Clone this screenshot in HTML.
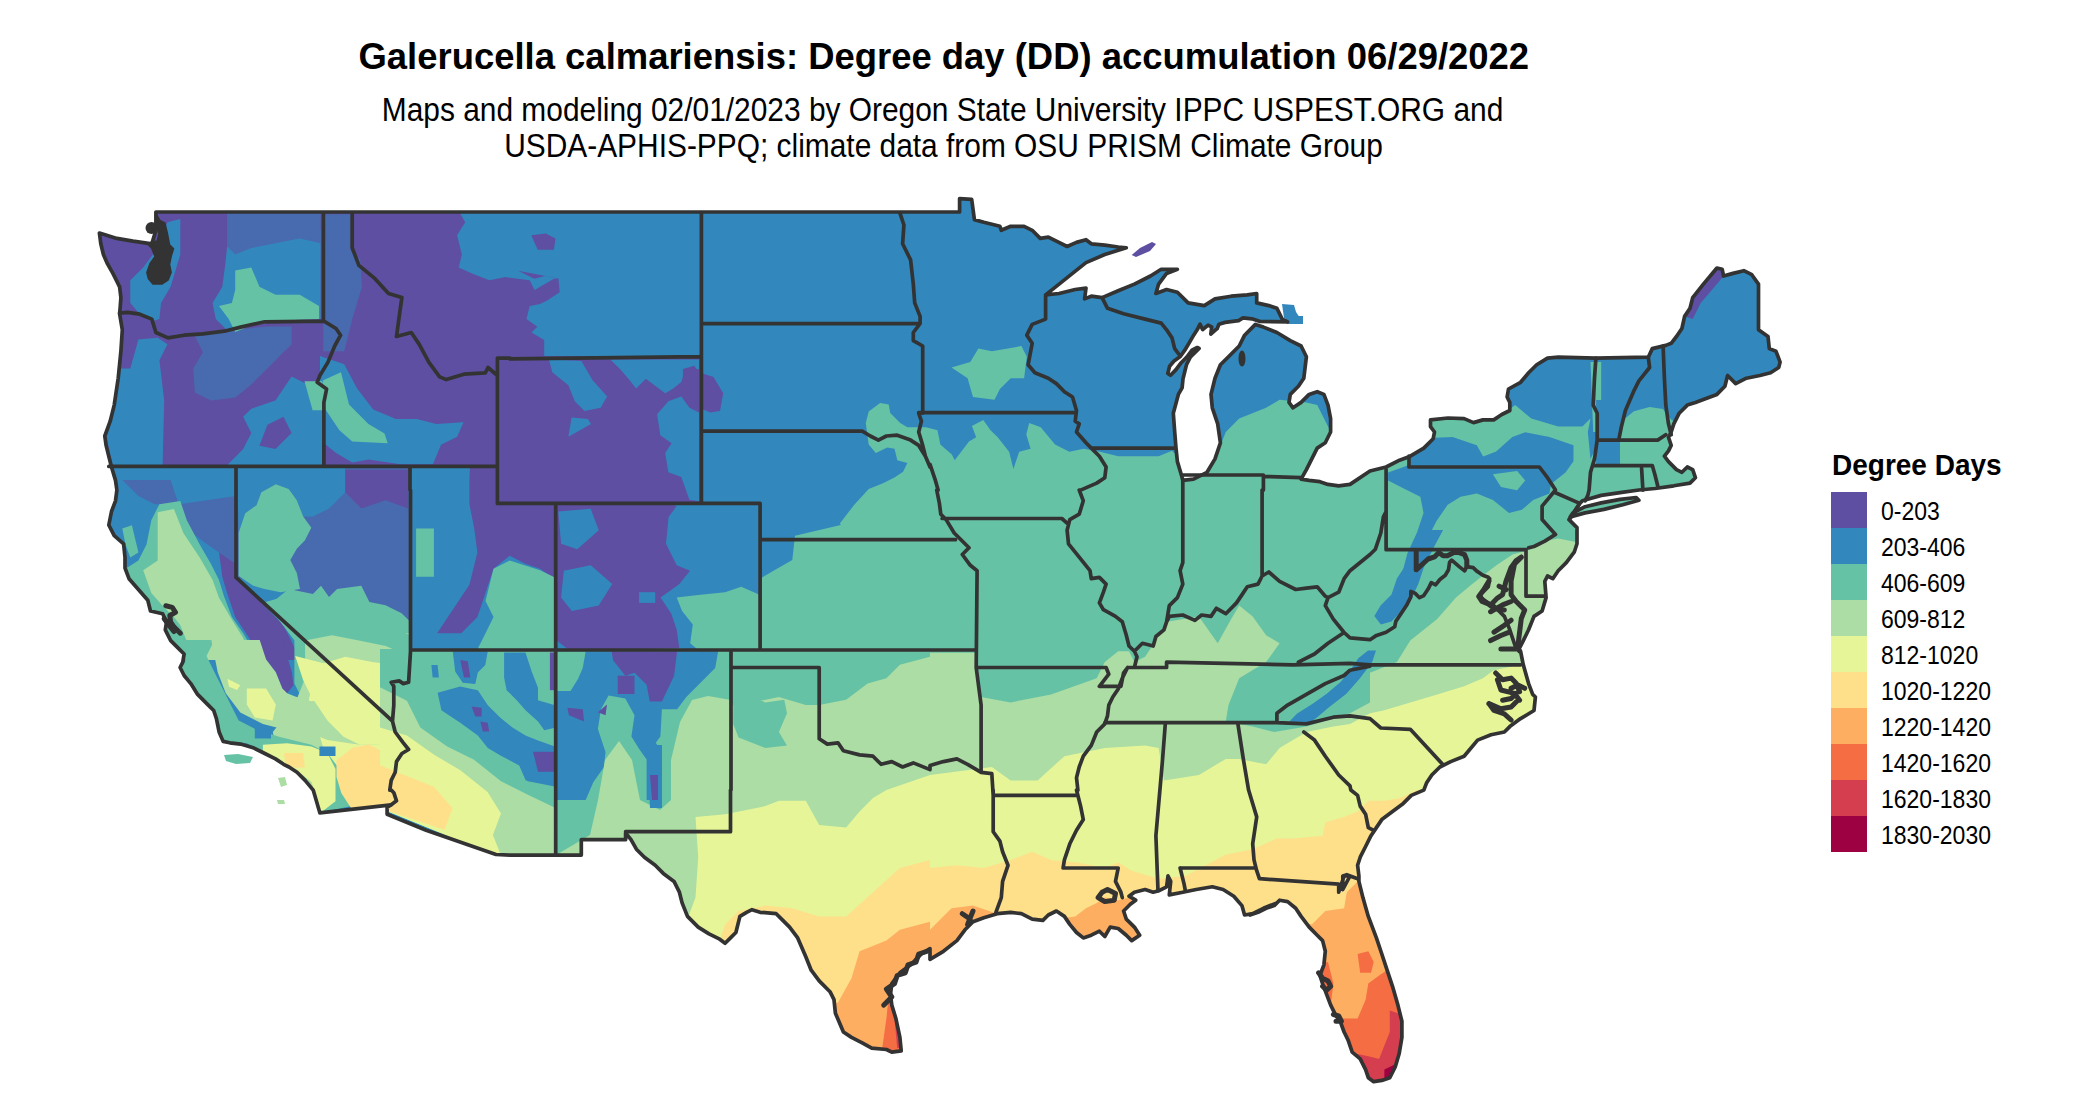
<!DOCTYPE html>
<html><head><meta charset="utf-8"><style>
html,body{margin:0;padding:0;background:#fff;width:2100px;height:1116px;overflow:hidden;font-family:"Liberation Sans",sans-serif;}
.t{position:absolute;white-space:nowrap;color:#000;}
#title{font-weight:bold;font-size:36.45px;left:358.5px;top:36px;}
.sub{font-size:29.9px;transform:scaleY(1.1);transform-origin:0 0;}
.sw{position:absolute;left:1831px;width:36px;height:36px;}
.lb{position:absolute;left:1881px;font-size:23px;white-space:nowrap;transform:scaleY(1.09);transform-origin:0 0;}
</style></head><body>
<svg width="2100" height="1116" viewBox="0 0 2100 1116" style="position:absolute;left:0;top:0">
<defs><clipPath id="us"><path d="M99.4,233 L116.9,238.4 L133,241.1 L151.8,243.8 L155.9,230.3 L155.9,212 L510,212 L510,212 L930,212 L930,212 L959.6,212 L959.6,198.6 L971.7,199.4 L974.4,219.6 L983.8,222.3 L999.9,226.3 L1001.3,230.3 L1010.7,226.3 L1024.1,226.3 L1032.2,230.3 L1040.2,238.4 L1048.3,237.1 L1056.4,241.1 L1067.1,246.5 L1076.5,242.4 L1086,239.7 L1091.3,243.8 L1104.8,245.1 L1118.2,247 L1126.3,247.8 L1104.8,254.5 L1086,262.6 L1072.5,273.4 L1059.1,284.1 L1045.6,294.9 L1059.1,293.5 L1075.2,289.5 L1086,288.1 L1084.6,298.9 L1091.3,296.2 L1102.1,297.6 L1118.2,290.8 L1134.4,284.1 L1150.5,276 L1161.2,269.3 L1177.4,269.3 L1166.6,273.4 L1158.6,284.1 L1155.9,293.5 L1166.6,289.5 L1177.4,292.2 L1188.1,302.9 L1204.3,305.6 L1215,298.9 L1231.2,296.2 L1247.3,294.9 L1256.7,293.5 L1256.7,302.9 L1268.8,305.6 L1276.9,308.3 L1282.2,319.1 L1287.6,321.8 L1260,321.5 L1252,318.8 L1243,317.9 L1238.6,320.6 L1225.1,322.4 L1218.9,324.2 L1217.1,328.7 L1210.8,334 L1211.7,326.9 L1208.1,325.1 L1202.7,329.6 L1200,324.2 L1197.3,329.6 L1193.8,334.9 L1190.2,341.2 L1184.8,350.2 L1180.3,356.5 L1174,361 L1169.6,366.3 L1167.8,373.5 L1170.5,375.3 L1175.8,369.9 L1181.2,362.7 L1186.6,357.3 L1192,350.2 L1197.3,347.5 L1199.1,348.4 L1190.2,357.3 L1186.6,364.3 L1184.8,371.5 L1183,378.9 L1182.1,387.8 L1178.5,394.1 L1173.3,413.2 L1174.7,432 L1176,448.1 L1177.4,461.6 L1181.4,475 L1182.8,480.4 L1193.5,479.1 L1207,472.3 L1215,458.9 L1220.4,442.8 L1217.7,423.9 L1212.3,407.8 L1211,394.4 L1215,378.2 L1220.4,364.8 L1228.5,356.7 L1239.2,346 L1244.6,335.2 L1255.4,324.4 L1263.4,327.1 L1276.9,332.5 L1290.3,340.6 L1301.1,346 L1306.4,356.7 L1305.1,367.5 L1303.8,378.2 L1298.4,386.3 L1290.3,394.4 L1289,402.4 L1293,407.8 L1301.1,402.4 L1309.1,394.4 L1317.2,391.7 L1323.9,394.4 L1328,405.1 L1330.6,418.6 L1330.6,432 L1325.3,442.8 L1317.2,448.1 L1311.8,458.9 L1306.4,469.6 L1301.1,479.1 L1309.1,480.4 L1319.9,481.7 L1328,484.4 L1338.7,485.8 L1350,484.4 L1370,471 L1386.1,467 L1399.6,460.2 L1410.3,456.2 L1423.8,448.1 L1433.2,438.7 L1434.5,432 L1430.5,426.6 L1430.5,419.9 L1448,418 L1464.1,418.6 L1473.5,422.6 L1482.9,419.9 L1493.7,419.9 L1501.8,414.5 L1509.8,410.5 L1509.8,402.4 L1507.1,397 L1508.5,389 L1520.6,382.3 L1528.6,372.8 L1536.7,364.8 L1547.5,358.1 L1558.2,357.2 L1595.9,358.1 L1648.3,357.2 L1652.3,348.6 L1665.8,345.4 L1671.2,343.3 L1676.5,336.5 L1681.9,328.5 L1684.6,316.4 L1690,308.3 L1692.7,297.6 L1703.4,284.1 L1716.9,268 L1722.2,269.3 L1723.6,276 L1733,273.4 L1743.8,270.7 L1751.8,274.7 L1758.5,284.1 L1758.5,329.8 L1768,336.5 L1769.3,348.6 L1776,351.3 L1780.1,362.1 L1778.7,367.5 L1770.6,372.8 L1759.9,375.5 L1746.4,378.2 L1735.7,383.6 L1727.6,375.5 L1724.9,386.3 L1716.9,394.4 L1706.1,398.4 L1695.4,402.4 L1687.3,405.1 L1679.2,413.2 L1673.8,423.9 L1671.2,432 L1668.5,437.4 L1671.2,445.4 L1668.5,450.8 L1664.4,456.2 L1668.5,461.6 L1676.5,469.6 L1681.9,472.3 L1687.3,467 L1692.7,469.6 L1695.4,477.7 L1690,483.1 L1673.8,485.8 L1655,488.5 L1638.9,490 L1620.1,492.7 L1601.2,495.4 L1582.4,500.8 L1579.7,503.4 L1569,519.6 L1577,527.6 L1577,543.8 L1574.4,551.8 L1566.3,562.6 L1558.2,570.7 L1552.8,578.7 L1547.5,576 L1544.8,581.4 L1546.1,597.6 L1542.1,611 L1534,616.4 L1528.6,629.8 L1523.3,640.6 L1519.2,648.6 L1520.6,651.3 L1523.3,664.8 L1528.6,683.6 L1532.7,694.4 L1535.4,697 L1534,710.5 L1520.6,718.6 L1509.8,726.6 L1504.4,732 L1491,734.7 L1477.6,740.1 L1464.1,756.2 L1450.7,761.6 L1439.9,767 L1431.8,775 L1426.5,783.1 L1423.8,790.1 L1411.3,795.4 L1403.3,803.4 L1392.5,811.5 L1381.8,819.6 L1376.4,827.6 L1371,835.7 L1365.6,846.5 L1360.2,857.2 L1357.6,865.3 L1358.9,876 L1358.9,881.4 L1362.9,897.6 L1368.3,916.4 L1376.4,937.9 L1381.8,954 L1387.1,970.2 L1392.5,986.3 L1397.9,1005.1 L1401.9,1021.2 L1401.9,1037.4 L1399.2,1053.5 L1395.2,1067 L1389.8,1077.7 L1381.8,1080.4 L1373.7,1081.7 L1368.3,1077.7 L1365.6,1069.6 L1360.2,1058.9 L1352.2,1052.2 L1348.1,1040.1 L1344.1,1032 L1340.1,1021.2 L1336,1015.9 L1330.7,1005.1 L1326.6,994.4 L1322.6,983.6 L1319.9,975.5 L1323.9,964.8 L1325.3,951.3 L1322.6,940.6 L1317.2,935.2 L1309.2,927.1 L1301.1,916.4 L1295.7,908.3 L1287.6,901.6 L1279.6,900.2 L1274.2,905.6 L1266.1,908.3 L1258.1,912.3 L1250,915 L1276.9,902.9 L1263.4,908.3 L1252.7,913.7 L1244.6,915 L1241.9,905.6 L1233.8,896.2 L1223.1,889.5 L1212.3,886.8 L1196.2,889.5 L1182.8,892.2 L1169.3,894.9 L1170.7,881.4 L1168,876 L1166.6,886.8 L1158.6,890.8 L1153.2,892.2 L1145.1,889.5 L1134.4,892.2 L1129,896.2 L1135.7,900.2 L1130.3,904.3 L1123.6,911 L1126.3,919.1 L1134.4,927.1 L1139.7,935.2 L1131.7,940.6 L1126.3,935.2 L1118.2,928.5 L1110.2,927.1 L1104.8,936.5 L1099.4,931.2 L1091.3,935.2 L1083.3,937.9 L1076.5,932.5 L1069.8,924.4 L1064.4,916.4 L1056.4,911 L1048.3,915 L1042.9,920.4 L1032.2,919.1 L1021.4,913.7 L1010.7,912.3 L997.2,913.7 L983.8,917.7 L973,921.8 L965,929.8 L956.9,940.6 L943.4,951.3 L930,959.4 L930,948.6 L921.4,954 L910.6,964.8 L899.9,972.8 L891.8,983.6 L890.5,994.4 L891.8,1005.1 L895.9,1018.6 L899.9,1037.4 L901.2,1050.8 L891.8,1052.2 L886.4,1049.5 L871.7,1048.1 L862.2,1042.8 L851.5,1037.4 L843.4,1032 L835.4,1013.2 L834,999.7 L830,991.7 L819.2,980.9 L811.2,970.2 L805.8,956.7 L797.7,937.9 L789.6,927.1 L781.6,919.1 L776.2,913.7 L760.1,912.3 L752,909.7 L746.6,912.3 L739.9,916.4 L735.9,932.5 L730.5,937.9 L725.1,943.3 L719.7,939.2 L709,933.9 L698.2,927.1 L687.5,916.4 L682.1,902.9 L679.4,892.2 L674,881.4 L663.3,873.4 L655.2,865.3 L644.4,857.2 L636.4,849.2 L631,839.7 L625.6,833 L625.6,839.7 L581.3,839.7 L581.3,855.1 L555.7,855.1 L510,855.1 L496,854.5 L426.1,830.3 L387.1,814.2 L387.1,807.5 L391.2,804.8 L319.9,812.9 L313.2,790.1 L305.1,780.4 L297,772.3 L289,767 L283.6,764.3 L275.5,758.9 L264.8,753.5 L254,748.1 L240.6,744.1 L229.8,742.8 L223.1,741.4 L219.1,732 L216.4,718.6 L213.7,710.5 L208.3,705.1 L197.6,694.4 L190.8,683.6 L184.1,675.5 L180.1,667.5 L182.8,662.1 L184.1,654 L178.7,648.6 L170.7,640.6 L165.3,629.8 L166.6,621.8 L162.6,613.7 L150.5,611 L147.8,600.2 L138.4,589.5 L129,578.7 L125,568 L125,557.2 L123.6,543.8 L114.2,535.7 L108.8,525 L111.5,511.5 L115.5,500.8 L116.9,490 L116.9,490.1 L115.5,480.4 L111.5,467 L108.8,456.2 L106.1,445.4 L104.8,436 L110.2,421.2 L114.2,405.1 L118.2,378.2 L120.9,351.3 L122.3,329.8 L119.6,313.7 L120.1,308.3 L120.9,297.6 L119.6,286.8 L116.9,281.4 L112.9,273.4 L107.5,263.9 L103.4,254.5 L100.8,243.8Z M1570.3,516.9 L1585.1,512.9 L1603.9,509.4 L1622.8,504.8 L1638.9,500.2 L1636.2,497.5 L1620.1,499.4 L1601.2,502.9 L1585.1,506.7 L1573,512.9Z"/></clipPath></defs>
<g clip-path="url(#us)">
<rect x="0" y="0" width="2100" height="1116" fill="#3288BD"/>
<path d="M99,233 L156,205 L455.5,205 L465.2,222.3 L457.1,235.2 L461.9,254.5 L458.7,267.4 L473.2,273.9 L489.4,280.3 L505.5,277.1 L529.7,280.3 L534.5,290 L553.9,278.7 L560,278.7 L518.1,270.7 L534.2,278.7 L545,276 L558.4,278.7 L559.7,292.2 L547.6,300.2 L536.9,305.6 L531.5,316.4 L539.6,324.4 L531.5,332.5 L545,340.6 L553,351.3 L566.5,348.6 L579.9,351.3 L590.7,352.7 L612.2,351.3 L617.6,346 L620.2,358.1 L701,358 L701,503.7 L670,504 L676.7,506 L668.6,516.9 L666,543.8 L676.7,565.3 L690,570.7 L679.4,584.1 L660.6,597.6 L671.3,613.7 L676.7,629.8 L679.4,648.6 L675.8,649 L689.2,673.8 L675.8,700.7 L648.9,700.7 L635.4,687.2 L616.6,689.9 L608.6,660.3 L568.2,649.6 L556,640 L556,580 L540,568.7 L525.8,563.9 L509.7,555.8 L493.5,568.7 L485.5,592.9 L477.4,617.1 L461.3,633.2 L437.1,633.2 L453.2,609 L469.4,584.8 L477.4,552.6 L474.2,528.4 L469.4,504.2 L469.4,480 L470,467 L100,467 L90,300Z" fill="#5E4FA2"/>
<path d="M130.3,280.3 L143.2,267.4 L157.7,248.1 L167.4,222.3 L180.3,219 L180.3,254.5 L170.6,286.8 L161,302.9 L159.4,319 L154.5,320.6 L148.1,315.8 L138.4,312.6 L130.3,302.9Z" fill="#3288BD"/>
<path d="M227.1,246.5 L243.2,238.4 L259.4,230.3 L275.5,222.3 L299.7,222.3 L320.6,230.3 L320.6,319 L299.7,317.4 L283.5,319 L251.3,325.5 L227.1,330.3 L215.8,319 L212.6,302.9 L222.3,286.8 L225.5,262.6Z" fill="#3288BD"/>
<path d="M227.1,212.6 L320.6,212.6 L320.6,243.2 L299.7,238.4 L275.5,243.2 L251.3,248.1 L235.2,254.5 L227.1,246.5Z" fill="#486BAF"/>
<path d="M114.2,368.4 L130.3,368.4 L138.4,339.4 L157.7,337.7 L167.4,344.2 L159.4,360.3 L164.2,400.6 L162.6,465.2 L112.6,465.2 L106.1,436.1 L111,416.8Z" fill="#3288BD"/>
<path d="M194.8,336.1 L235.2,329.7 L267.4,326.5 L291.6,326.5 L291.6,344.2 L275.5,360.3 L267.4,368.4 L251.3,384.5 L235.2,397.4 L211,400.6 L194.8,392.6 L193.2,368.4 L202.9,352.3Z" fill="#486BAF"/>
<path d="M251.3,408.7 L275.5,400.6 L291.6,376.5 L307.7,384.5 L322.3,392.6 L322.3,465.2 L227.1,465.2 L243.2,449 L251.3,432.9 L243.2,416.8Z" fill="#3288BD"/>
<path d="M267.4,424.8 L283.5,416.8 L291.6,432.9 L275.5,449 L259.4,445.8Z" fill="#5E4FA2"/>
<path d="M323.2,214.2 L350.6,214.2 L350.6,249.7 L360.3,259.4 L361.9,286.8 L352.3,319 L344.2,351.3 L323.2,351.3Z" fill="#486BAF"/>
<path d="M531.3,235.2 L545.8,233.5 L555.5,238.4 L553.9,249.7 L537.7,249.7Z" fill="#5E4FA2"/>
<path d="M529.7,306.1 L545.8,302.9 L560,294.8 L560,351.3 L549,348.1 L537.7,327.1 L526.5,319Z" fill="#3288BD"/>
<path d="M320,356.1 L344.2,364.2 L357.1,388.4 L373.2,409.4 L395.8,419 L416.8,419 L436.1,423.9 L463.5,422.3 L457.1,436.8 L441,444.8 L432.9,464.2 L400.6,464.2 L368.4,459.4 L352.3,462.6 L336.1,452.9 L320,440Z" fill="#3288BD"/>
<path d="M544.2,340 L699,340 L699,356.1 L544.2,356.1Z" fill="#3288BD"/>
<path d="M549,359.4 L581.3,361 L592.6,380.3 L607.1,396.5 L600.6,407.7 L584.5,411 L574.8,401.3 L568.4,385.2 L552.3,372.3Z" fill="#3288BD"/>
<path d="M610.3,359.4 L699,359.4 L699,369 L684.5,372.3 L681.3,381.9 L673.2,388.4 L665.2,393.2 L645.8,378.7 L636.1,388.4 L629.7,380.3 L620,369Z" fill="#3288BD"/>
<path d="M657.1,414.2 L668.4,401.3 L681.3,396.5 L689.4,407.7 L699,412.6 L699,501.3 L689.4,499.7 L681.3,477.1 L668.4,472.3 L665.2,452.9 L671.6,443.2 L660.3,435.2Z" fill="#3288BD"/>
<path d="M571.6,417.4 L587.7,419 L591,423.9 L568.4,436.8Z" fill="#3288BD"/>
<path d="M682.9,369 L694.2,365.8 L699,372.3 L713.5,377.1 L723.2,393.2 L720,411 L710.3,412.6 L699,407.7 L689.4,396.5 L682.9,380.3Z" fill="#5E4FA2"/>
<path d="M558.4,511.5 L590.7,508.8 L598.7,530.3 L577.2,549.2 L561.1,543.8Z" fill="#3288BD"/>
<path d="M563.8,570.7 L590.7,565.3 L612.2,584.1 L598.7,605.6 L571.8,611 L561.1,597.6Z" fill="#3288BD"/>
<path d="M639.1,592.2 L655.2,592.2 L655.2,602.9 L639.1,602.9Z" fill="#3288BD"/>
<path d="M235.2,270.6 L251.3,267.4 L259.4,286.8 L275.5,294.8 L299.7,294.8 L319,306.1 L319,319 L283.5,320.6 L251.3,325.5 L235.2,331.9 L228.7,319 L219,306.1 L231.9,302.9 L235.2,290Z" fill="#66C2A5"/>
<path d="M304.5,381.3 L322.3,381.3 L322.3,410.3 L312.6,410.3Z" fill="#66C2A5"/>
<path d="M323.2,380.3 L341,372.3 L349,404.5 L368.4,423.9 L384.5,433.5 L387.7,443.2 L352.3,441.6 L339.4,430.3 L326.5,411 L320,401.3Z" fill="#66C2A5"/>
<path d="M178.7,504.2 L236,496.1 L236,568.7 L219,552.6 L202.9,541.3 L186.8,528.4Z" fill="#486BAF"/>
<path d="M122.3,480 L170.6,480 L178.7,504.2 L154.5,504.2 L138.4,496.1Z" fill="#486BAF"/>
<path d="M151.3,520.3 L159.4,504.2 L180.3,501 L186.8,520.3 L199.7,544.5 L211,563.9 L219,580 L223.9,596.1 L231.9,617.1 L243.2,633.2 L259.4,660 L186.8,660 L167.4,641.3 L164.2,625.2 L149.7,607.4 L143.2,596.1 L128.7,580 L125.5,568.7 L138.4,560.6 L146.5,544.5Z" fill="#66C2A5"/>
<path d="M122.3,528.4 L131.9,525.2 L138.4,552.6 L130.3,557.4 L125.5,544.5Z" fill="#66C2A5"/>
<path d="M219,552.6 L236,563.9 L236,576.8 L251.3,592.9 L267.4,609 L283.5,625.2 L291.6,641.3 L299.7,660 L267.4,660 L251.3,641.3 L235.2,617.1 L227.1,592.9 L222.3,576.8Z" fill="#5E4FA2"/>
<path d="M259.7,640 L282.3,640 L291.9,672.3 L293.5,685.2 L287.1,693.2 L282.3,688.4 L275.8,672.3 L266.1,659.4Z" fill="#5E4FA2"/>
<path d="M157.7,512.3 L173.9,509 L183.5,533.2 L199.7,557.4 L212.6,580 L219,597.7 L230.3,617.1 L243.2,638.1 L251.3,660 L194.8,660 L186.8,641.3 L180.3,625.2 L173.9,617.1 L162.6,605.8 L151.3,592.9 L143.2,570.3 L157.7,560.6Z" fill="#ABDDA4"/>
<path d="M237.1,468.1 L409.7,468.1 L409.7,621.3 L237.1,577.7Z" fill="#486BAF"/>
<path d="M237.1,468.1 L345.2,468.1 L345.2,492.3 L329,508.4 L312.9,516.5 L303.2,516.5 L296.8,500.3 L288.7,489 L275.8,484.2 L261.3,492.3 L256.5,505.2 L245.2,513.2 L238.7,532.6Z" fill="#3288BD"/>
<path d="M345.2,469.7 L408.1,469.7 L408.1,508.4 L385.5,500.3 L361.3,508.4 L345.2,492.3Z" fill="#5E4FA2"/>
<path d="M238.7,532.6 L245.2,513.2 L256.5,505.2 L261.3,492.3 L275.8,484.2 L288.7,489 L296.8,500.3 L303.2,516.5 L311.3,527.7 L304.8,540.6 L296.8,548.7 L290.3,560 L296.8,572.9 L300,589 L280.6,592.3 L264.5,589 L253.2,585.8 L238.7,576.1Z" fill="#66C2A5"/>
<path d="M272.6,601.9 L288.7,589 L312.9,593.9 L321,585.8 L329,597.1 L337.1,589 L361.3,585.8 L369.4,601.9 L385.5,605.2 L401.6,613.2 L409.7,621.3 L409.7,640 L309.7,640Z" fill="#66C2A5"/>
<path d="M316.1,633.2 L348.4,625.2 L380.6,633.2 L409.7,633.2 L409.7,660 L316.1,660Z" fill="#ABDDA4"/>
<path d="M262.1,602.9 L299.7,592.2 L332,602.9 L358.9,616.4 L385.8,624.4 L410.5,635.2 L410.5,732 L392.5,721.2 L305.1,705.1 L294.4,683.6 L294.4,640.6 L278.2,619.1Z" fill="#66C2A5"/>
<path d="M305.1,640.6 L332,635.2 L358.9,640.6 L385.8,646 L410.5,656.7 L410.5,790.1 L313.2,790.1 L278.2,758.9 L272.8,732 L294.4,705.1 L305.1,678.2Z" fill="#ABDDA4"/>
<path d="M318.6,664.8 L345.4,656.7 L372.3,662.1 L393.8,664.8 L410.5,678.2 L410.5,790.1 L345.4,790.1 L326.6,758.9 L318.6,732 L305.1,718.6 L310.5,691.7Z" fill="#E6F598"/>
<path d="M166.1,640 L214.5,640 L206.5,656.1 L214.5,672.3 L222.6,688.4 L230.6,704.5 L238.7,720.6 L254.8,728.7 L279,736.8 L311.3,744.8 L327.4,752.9 L351.6,785.2 L351.6,806.1 L321,812.6 L317.7,801.3 L311.3,781.9 L303.2,775.5 L291.9,767.4 L285.5,769 L275.8,757.7 L262.9,754.5 L256.5,748.1 L246.8,743.2 L224.2,741.6 L219.4,736.8 L219.4,723.9 L214.5,715.8 L212.9,707.7 L203.2,701.3 L191.9,685.2 L182.3,673.9 L180.6,667.4 L185.5,661 L183.9,652.9 L174.2,648.1Z" fill="#66C2A5"/>
<path d="M211.3,640 L259.7,640 L266.1,659.4 L275.8,672.3 L282.3,688.4 L287.1,693.2 L295.2,696.5 L311.3,701.3 L343.5,696.5 L359.7,704.5 L375.8,712.6 L390,720.6 L390,744.8 L359.7,744.8 L327.4,740 L311.3,733.5 L287.1,730.3 L262.9,723.9 L240.3,712.6 L225.8,693.2 L217.7,672.3Z" fill="#ABDDA4"/>
<path d="M227.4,678.7 L240.3,685.2 L237.1,690 L229,686.8Z" fill="#E6F598"/>
<path d="M246.8,688.4 L266.1,688.4 L275.8,704.5 L272.6,720.6 L254.8,717.4 L246.8,704.5Z" fill="#E6F598"/>
<path d="M295.2,656.1 L327.4,664.2 L351.6,680.3 L375.8,688.4 L390,696.5 L390,744.8 L359.7,744.8 L343.5,736.8 L327.4,720.6 L311.3,696.5 L303.2,680.3Z" fill="#E6F598"/>
<path d="M262.9,744.8 L287.1,743.2 L311.3,746.5 L327.4,752.9 L335.5,769 L335.5,801.3 L321,812.6 L317.7,801.3 L311.3,781.9 L303.2,775.5 L291.9,767.4 L285.5,769 L275.8,757.7 L262.9,754.5Z" fill="#E6F598"/>
<path d="M283.9,752.9 L303.2,752.9 L304.8,767.4 L291.9,767.4 L285.5,762.6Z" fill="#FEE08B"/>
<path d="M336.5,760.6 L352.6,747.7 L368.7,744.5 L384.8,752.6 L396.1,760.6 L399.4,805.8 L392.9,809 L352.6,810.6 L341.3,792.9 L336.5,776.8Z" fill="#FEE08B"/>
<path d="M254.8,727.1 L271,727.1 L271,738.4 L254.8,738.4Z" fill="#3288BD"/>
<path d="M319.4,746.5 L335.5,746.5 L335.5,756.1 L319.4,756.1Z" fill="#3288BD"/>
<path d="M224.2,754.5 L253.2,754.5 L253.2,764.2 L224.2,764.2Z" fill="#66C2A5"/>
<path d="M277.4,777.1 L287.1,777.1 L287.1,786.8 L277.4,786.8Z" fill="#ABDDA4"/>
<path d="M493.5,568.7 L509.7,560.6 L540,570.3 L556,578 L556,649.5 L477.4,649.4 L485.5,633.2 L493.5,617.1 L485.5,601Z" fill="#66C2A5"/>
<path d="M416.1,528.4 L433.9,528.4 L433.9,576.8 L416.1,576.8Z" fill="#66C2A5"/>
<path d="M380,649 L460.7,649 L460.7,687.2 L433.8,700.7 L447.2,727.6 L474.1,749.1 L501,767.9 L527.9,781.3 L556.1,786.7 L556.1,855.3 L495.6,855.3 L380,808.2Z" fill="#66C2A5"/>
<path d="M528,650 L556,650 L556,672 L540,672 L528,662Z" fill="#66C2A5"/>
<path d="M407.5,650 L555,650 L555,780 L407.5,780Z" fill="#66C2A5"/>
<path d="M437.6,692.7 L460.2,686.4 L477.8,690.2 L487.8,705.2 L500.4,717.8 L512.9,727.8 L525.5,735.4 L538,740.4 L555,746.6 L555,780 L525.5,780 L519.2,765.5 L500.4,755.4 L487.8,747.9 L477.8,735.4 L460.2,722.8 L441.4,710.3Z" fill="#3288BD"/>
<path d="M504.1,652.5 L525.5,652.5 L531.7,671.4 L538,687.7 L538,700.2 L555,705.2 L555,727.8 L544.3,730.3 L538,721.6 L525.5,710.3 L516.7,700.2 L506.6,690.2 L504.1,677.6Z" fill="#3288BD"/>
<path d="M452.7,651.3 L487.8,651.3 L485.3,665.1 L477.8,672.6 L475.3,683.9 L462.7,682.7 L455.2,671.4Z" fill="#3288BD"/>
<path d="M431.4,665.1 L437.6,665.1 L438.9,677.6 L432.6,677.6Z" fill="#3288BD"/>
<path d="M460.2,660.1 L467.8,661.3 L470.3,677.6 L464,677.6Z" fill="#5E4FA2"/>
<path d="M471.5,706.5 L481.6,707.8 L481.6,716.5 L475.3,716.5Z" fill="#5E4FA2"/>
<path d="M480.3,721.6 L487.8,722.8 L489.1,731.6 L482.8,731.6Z" fill="#5E4FA2"/>
<path d="M533,751.7 L555,751.7 L555,771.7 L538,771.7Z" fill="#5E4FA2"/>
<path d="M549.9,652.5 L555,652.5 L555,690.2 L549.9,690.2Z" fill="#5E4FA2"/>
<path d="M380,687.2 L406.9,700.7 L420.3,727.6 L447.2,746.4 L474.1,759.8 L501,781.3 L527.9,794.8 L556.1,808.2 L556.1,855.3 L495.6,855.3 L380,808.2Z" fill="#ABDDA4"/>
<path d="M380,727.6 L406.9,735.6 L433.8,754.4 L460.7,770.6 L487.6,792.1 L501,813.6 L492.9,835.1 L501,855.3 L495.6,855.3 L380,808.2Z" fill="#E6F598"/>
<path d="M380,765.2 L406.9,776 L433.8,786.7 L452.6,808.2 L444.5,829.7 L380,808.2Z" fill="#FEE08B"/>
<path d="M840,523.3 L854.3,504.7 L868.7,488.9 L883,483.2 L894.5,477.5 L903.1,471.7 L907.4,463.1 L897.3,460.3 L894.5,448.8 L887.3,447.4 L875.8,453.1 L868.7,444.5 L865.8,423 L868.7,411.5 L880.1,402.9 L888.7,404.4 L890.2,413 L900.2,423 L907.4,427.3 L920.3,427.3 L926,427.3 L937.5,430.2 L940.3,444.5 L951.8,454.5 L954.7,460.3 L969,441.6 L976.2,437.3 L971.9,425.9 L983.3,420.1 L990.5,430.2 L997.7,437.3 L1009.1,451.7 L1013.4,468.9 L1019.2,451.7 L1030.6,448.8 L1026.3,434.5 L1029.2,423 L1040.7,427.3 L1055,444.5 L1069.3,451.7 L1083.7,448.8 L1100,451.7 L1118.2,456.2 L1158.6,456.2 L1172,450.8 L1180.1,458.9 L1198.9,458.9 L1220.4,445.4 L1225.8,432 L1239.2,418.6 L1266.1,407.8 L1279.6,399.7 L1306.4,402.4 L1317.2,405.1 L1328,426.6 L1338.7,445.4 L1350,458.9 L1370,432 L1430.5,418.6 L1504.4,413.2 L1515.2,405.1 L1531.3,418.6 L1558.2,426.6 L1582.4,426.6 L1590.5,418.6 L1587.8,432 L1590.5,458.9 L1597.2,445.4 L1617.4,444.1 L1622.7,420.3 L1634,411.3 L1649.6,406.9 L1663,409 L1667.6,415.8 L1672,420.3 L1700,430 L1800,430 L1800,700 L1800,1100 L1000,1100 L560,1000 L560,880 L556,855 L556,650 L679,648.6 L698.2,650 L690.2,643.3 L692.8,624.4 L682.1,611 L676.7,597.6 L698.2,594.9 L725.1,592.2 L741.2,586.8 L760.1,594.9 L760.1,578.7 L773.5,570.7 L792.3,559.9 L795,535.7 L840.7,525Z" fill="#66C2A5"/>
<path d="M951.5,367.5 L970.3,362.1 L978.4,348.6 L991.8,351.3 L1008,348.6 L1021.4,346 L1026.8,356.7 L1024.1,378.2 L1010.7,378.2 L999.9,389 L994.5,399.7 L973,397 L967.6,378.2Z" fill="#66C2A5"/>
<path d="M1590.5,362.1 L1601.2,362.1 L1601.2,432 L1593.2,432Z" fill="#66C2A5"/>
<path d="M1410.6,438.7 L1452.6,437.1 L1476.8,445.2 L1483.2,456.5 L1496.1,451.6 L1512.3,437.1 L1525.2,432.3 L1549.4,437.1 L1573.5,445.2 L1573.5,461.3 L1565.5,472.6 L1551,483.9 L1549.4,493.5 L1533.2,500 L1521.9,509.7 L1509,512.9 L1492.9,500 L1476.8,493.5 L1460.6,496.8 L1447.7,504.8 L1436.5,521 L1428.4,537.1 L1420.3,553.2 L1412.3,569.4 L1401,577.4 L1407.4,553.2 L1417.1,532.3 L1423.5,512.9 L1420.3,496.8 L1404.2,488.7 L1388.1,480.6 L1388.1,472.6 L1410.6,464.5Z" fill="#3288BD"/>
<path d="M1492.9,474.2 L1517.1,471 L1525.2,480.6 L1517.1,490.3 L1501,487.1Z" fill="#66C2A5"/>
<path d="M1596.1,400 L1620,400 L1620,464.5 L1596.1,464.5Z" fill="#3288BD"/>
<path d="M1684.6,316.4 L1692.7,297.6 L1716.9,268 L1722.2,269.3 L1723.6,276 L1716.9,284.1 L1700.7,302.9 L1692.7,319.1Z" fill="#5E4FA2"/>
<path d="M1374.3,616 L1380.8,605.3 L1391.5,594.5 L1396.9,578.4 L1407.6,562.3 L1415.2,546.1 L1421.6,530 L1443.1,530 L1434.5,546.1 L1423.8,567.6 L1418.4,583.8 L1410.9,599.9 L1402.3,610.6 L1391.5,621.4 L1380.8,624.6Z" fill="#3288BD"/>
<path d="M1289.3,721.4 L1297.2,713.5 L1313,703.6 L1326.7,693.8 L1340.5,682 L1350.4,670.1 L1358.3,658.3 L1368.1,650.4 L1376,650.4 L1372.1,662.2 L1360.2,678 L1346.4,693.8 L1328.7,707.6 L1316.9,717.4 L1309,723.4Z" fill="#3288BD"/>
<path d="M556,651.3 L718.2,651.3 L715.2,668.1 L700,683.3 L686.3,697 L677.1,709.2 L661.9,709.2 L660.4,736.6 L655.8,742.7 L661.9,751.9 L661.9,800 L646.6,800 L646.6,759.5 L639,748.8 L631.4,736.6 L634.5,715.3 L625.3,698.6 L608.6,695.5 L600.9,709.2 L597.9,729 L605.5,751.9 L604,767.1 L593.3,782.3 L585.7,800 L556,800Z" fill="#3288BD"/>
<path d="M611.6,651.3 L677.1,651.3 L674.1,675.7 L661.9,701.6 L649.7,701.6 L646.6,684.8 L634.5,672.7 L625.3,675.7 L619.2,668.1 L613.1,660.5Z" fill="#5E4FA2"/>
<path d="M617.7,675.7 L634.5,675.7 L634.5,694 L617.7,694Z" fill="#5E4FA2"/>
<path d="M556,651.3 L585.7,651.3 L582.7,668.1 L578.1,678.8 L570.5,690.9 L556,690.9Z" fill="#66C2A5"/>
<path d="M567.4,707.7 L582.7,709.2 L584.2,721.4 L568.9,715.3Z" fill="#5E4FA2"/>
<path d="M597.9,712.3 L607,704.6 L605.5,715.3Z" fill="#5E4FA2"/>
<path d="M556,855 L590,835 L598,800 L605,760 L619,741 L632,760 L640,800 L660,810 L671,800 L671,760 L680,722 L692,700 L708,696 L731,700 L731,705.1 L752,702.4 L778.9,697 L805.8,705.1 L819.2,705.1 L846.1,699.7 L867.6,683.6 L886.4,678.2 L899.9,664.8 L930,656.7 L930,652.7 L976.2,652.7 L981.1,697 L1010.7,702.4 L1051,694.4 L1096.7,678.2 L1104.8,662.1 L1118.2,651.3 L1129,651.3 L1134.4,662.1 L1145.1,656.7 L1155.9,640.6 L1166.6,621.8 L1198.9,616.4 L1217.7,643.3 L1231.2,619.1 L1239.2,605.6 L1252.7,616.4 L1266.1,635.2 L1279.6,643.3 L1266.1,662.1 L1239.2,678.2 L1228.5,705.1 L1225.8,721.2 L1252.7,726.6 L1274.2,732 L1306.4,726.6 L1333.3,718.6 L1350,713.2 L1370,702.4 L1370,672.8 L1396.9,662.1 L1410.3,640.6 L1437.2,619.1 L1456,597.6 L1472.2,584.1 L1496.4,565.3 L1512.5,554.5 L1531.3,549.2 L1544.8,541.1 L1558.2,538.4 L1585.1,543.8 L1800,600 L1800,1100 L600,1100 L556,870Z" fill="#ABDDA4"/>
<path d="M733.2,699.7 L752,697 L765.4,702.4 L784.3,699.7 L787,713.2 L778.9,732 L787,745.4 L765.4,748.1 L752,742.8 L738.6,737.4 L733.2,723.9Z" fill="#66C2A5"/>
<path d="M647,745 L662,745 L662,808 L650,808Z" fill="#3288BD"/>
<path d="M650,775 L658,775 L658,800 L652,800Z" fill="#5E4FA2"/>
<path d="M687.5,919.1 L695.5,897.6 L698.2,857.2 L695.5,816.9 L725.1,814.2 L765.4,806.1 L778.9,800.8 L805.8,800.8 L819.2,825 L846.1,827.6 L859.6,811.5 L873,798.1 L886.4,790 L930,775 L991.8,767 L1010.7,780.4 L1037.6,780.4 L1064.4,756.2 L1104.8,748.1 L1145.1,745.4 L1158.6,748.1 L1163.9,780.4 L1198.9,775 L1225.8,758.9 L1239.2,758.9 L1266.1,764.3 L1279.6,748.1 L1306.4,732 L1333.3,726.6 L1350,723.9 L1370,713.2 L1383.4,710.5 L1410.3,702.4 L1437.2,694.4 L1464.1,686.3 L1482.9,678.2 L1493.7,670.2 L1520.6,664.8 L1558.2,664.8 L1800,700 L1800,1100 L700,1100 L690,930Z" fill="#E6F598"/>
<path d="M719.7,940.6 L725.1,924.4 L738.6,911 L765.4,905.6 L792.3,908.3 L819.2,916.4 L846.1,916.4 L873,892.2 L899.9,868 L930,859.9 L930,868 L956.9,865.3 L983.8,868 L1010.7,859.9 L1032.2,851.8 L1051,859.9 L1077.9,862.6 L1104.8,868 L1118.2,862.6 L1131.7,870.7 L1158.6,878.7 L1185.4,876 L1225.8,854.5 L1252.7,849.2 L1276.9,838.4 L1293,838.4 L1322.6,835.7 L1325.3,822.3 L1344.1,816.9 L1357.6,811.5 L1368.3,800.8 L1384.4,800.8 L1400.6,798.1 L1416.7,790 L1800,790 L1800,1100 L780,1100 L715,940Z" fill="#FEE08B"/>
<path d="M832.7,1005.1 L838,1002.4 L851.5,978.2 L859.6,951.3 L886.4,940.6 L899.9,929.8 L930,921.8 L930,929.8 L951.5,908.3 L973,905.6 L997.2,913.7 L999.9,929.8 L960,990 L920,1080 L860,1060 L820,1020Z" fill="#FDAE61"/>
<path d="M1056.4,919.1 L1075.2,916.4 L1086,908.3 L1096.7,902.9 L1104.8,897.6 L1118.2,900.2 L1129,897.6 L1139.7,902.9 L1145.1,951.3 L1056.4,951.3Z" fill="#FDAE61"/>
<path d="M1250,919.1 L1276.9,916.4 L1311.8,924.4 L1325.3,911 L1344.1,908.3 L1346.8,892.2 L1357.6,881.4 L1384.4,881.4 L1438.2,951.3 L1438.2,1099.2 L1303.8,1099.2 L1290.3,951.3 L1250,951.3Z" fill="#FDAE61"/>
<path d="M881.1,1056.2 L886.4,1018.6 L889.1,991.7 L897.2,978.2 L908,967.5 L930,954 L940.2,978.2 L913.3,1058.9Z" fill="#F46D43"/>
<path d="M1338.7,1018.6 L1357.6,1018.6 L1365.6,999.7 L1368.3,983.6 L1379.1,975.5 L1387.1,970.2 L1392.5,986.3 L1399.2,1005.1 L1401.9,1023.9 L1400.6,1048.1 L1395.2,1067 L1387.1,1075 L1376.4,1077.7 L1368.3,1075 L1362.9,1064.3 L1357.6,1056.2 L1349.5,1048.1 L1344.1,1037.4Z" fill="#F46D43"/>
<path d="M1314.5,964.8 L1328,962.1 L1333.4,983.6 L1330.7,1005.1 L1338.7,1018.6 L1330.7,1018.6 L1317.2,994.4Z" fill="#F46D43"/>
<path d="M1357.6,954 L1368.3,951.3 L1373.7,962.1 L1371,972.8 L1360.2,972.8Z" fill="#F46D43"/>
<path d="M1389.8,1010.5 L1406,1015.9 L1406,1040.1 L1400.6,1061.6 L1392.5,1077.7 L1379.1,1083.1 L1368.3,1080.4 L1362.9,1064.3 L1354.9,1053.5 L1368.3,1056.2 L1379.1,1058.9 L1384.4,1045.4 L1389.8,1032Z" fill="#D53E4F"/>
<path d="M894.5,1018.6 L902.6,1018.6 L905.3,1048.1 L897.2,1048.1Z" fill="#D53E4F"/>
<path d="M1384.4,1069.6 L1395.2,1064.3 L1400.6,1075 L1395.2,1085.8 L1384.4,1085.8Z" fill="#9E0142"/>
</g>
<path d="M224,755 L238,754 L253,757 L250,763 L236,764 L226,761Z" fill="#66C2A5"/>
<path d="M278,778 L285,777 L287,785 L281,787Z" fill="#ABDDA4"/>
<path d="M277,800 L284,800 L285,804 L278,804Z" fill="#ABDDA4"/>
<path d="M1131.7,255 L1140,248 L1152,242 L1156,244 L1150,251 L1136,257Z" fill="#5E4FA2"/>
<path d="M1282,304 L1294,305 L1296,312 L1300,318 L1292,322 L1284,318Z" fill="#3288BD"/>
<path d="M1285,316 L1303,316 L1303,324 L1287,324Z" fill="#3288BD"/>
<path d="M155.8,212 L160.6,220 L165.5,222.6 L167.9,232.3 L170.3,244.4 L174.4,248.4 L171.9,256.5 L170.3,264.5 L171.9,272.6 L168.7,280.6 L162.3,284.7 L152.6,284.7 L147.7,279 L146.1,272.6 L149.4,262.9 L154.2,256.5 L151,248.4 L147.7,245.2 L150.2,241.9 L156.6,240.3 L158.2,233.9 L156.6,228.2 L155.8,222.6 L155,216Z" fill="#333"/>
<circle cx="151.5" cy="228" r="6" fill="#333"/>
<ellipse cx="1242" cy="358.5" rx="3.5" ry="8" fill="#333"/>
<path d="M323.4,212.9 L323.4,321.2 M119.6,313.1 L127.6,312.3 L139.7,314.2 L151.8,319.1 L155.9,332.5 L168,337.9 L184.1,335.2 L202.9,333.9 L224.4,331.2 L240.6,327.1 L264.8,321.8 L323.9,321.2 M323.9,321.2 L336,328.5 L340.6,335.2 L334.7,346 L328,362.1 L319.9,375.5 L317.2,382.3 L326.6,389 L323.9,402.4 L323.9,466.4 M108.8,466.4 L497.4,466.4 M352.2,212.9 L352.2,247.8 L358.9,265.3 L375,278.7 L388.5,293.5 L401.9,297.6 L399.2,316.4 L396.5,336.5 L411.3,332.5 L419.4,344.6 L428.8,362.1 L439.6,376.9 L446.3,379.6 L463.8,374.2 L485.3,372.8 L488,367.5 L497.4,375.5 M497.4,358.1 L497.4,490.1 L497.4,490 L497.4,503.4 M497.4,358.1 L510,358.1 L510,358.9 L701.4,356.7 M236,466.4 L236,490.1 L236,490 L236,577.4 L392.5,721.2 M410,466.4 L410,490.1 L410.5,490 L410.5,651.3 M392.5,721.2 L393.8,705.1 L393.8,686.3 L391.2,682.3 L399.2,680.9 L403.3,683.6 L408.6,682.3 L410.5,651.3 M392.5,721.2 L395.2,732 L403.3,742.8 L408.6,749.5 L401.9,753.5 L396.5,761.6 L395.2,772.3 L391.2,780.4 L389.8,790.1 L391.2,790 L393.8,792.7 L396.5,800.8 L391.2,804.8 M410.5,650 L510,650 L510,650 L555.7,650 M497.4,503.4 L510,503.4 L510,503.4 L760.1,503.4 M555.7,503.4 L555.7,790.1 L555.7,790 L555.7,855.1 M555.7,650 L930,650 L930,650 L974.4,650 M731,650 L731,790.1 L730.5,790 L730.5,831.7 M731,667.5 L819.2,667.5 L819.2,738.7 L827.3,744.1 L838,742.8 L843.4,750.8 L859.6,754.9 L873,756.2 L881.1,764.3 L891.8,761.6 L902.6,767 L913.3,762.9 L930,769.6 L930,765.6 L943.4,761.6 L956.9,758.9 L967.6,764.3 L981.1,772.3 M625.6,831.7 L730.5,831.7 M701.4,212.9 L701.4,490.1 L701.4,490 L701.4,502.1 M760.1,503.4 L760.1,650 M760.1,539.7 L930,539.7 L930,539.7 L955.5,539.7 M701.4,323.6 L920.1,323.6 M701.4,431.2 L862.2,431.2 L870.3,436 L878.4,440.1 L886.4,436 L897.2,435.2 L910.6,440.1 L918.7,445.4 L925.4,456.2 L930,467 L930,464.3 L935.4,480.4 L938.1,490.1 L936.7,490 L939.4,503.4 L940.8,514.2 L946.1,519.6 L954.2,533 L965,543.8 L969,547.8 L962.3,554.5 L970.3,565.3 L977.1,570.7 L976.2,667.5 L981.1,705.1 L981.1,772.3 L991.8,773.7 L993.2,795.4 M899.9,212.9 L903.9,225 L902.6,243.8 L910.6,259.9 L913.3,284.1 L914.7,302.9 L920.1,316.4 L920.1,323.6 L913.3,332.5 L913.3,340.6 L922.7,346 L922.7,413.2 M918.7,413.2 L921.4,421.2 L918.7,432 L922.7,445.4 L925.4,456.2 M918.7,412.6 L930,412.6 L930,412.6 L1075.2,412.6 M1045.6,296.2 L1045.6,319.1 L1032.2,324.4 L1026.8,335.2 L1032.2,343.3 L1028.1,364.8 L1034.9,372.8 L1048.3,378.2 L1056.4,383.6 L1064.4,391.7 L1072.5,397 L1076.5,410.5 L1075.2,421.2 L1079.2,423.9 L1076.5,432 L1086,442.8 L1091.3,448.1 L1099.4,456.2 L1106.1,467 L1104.8,477.7 L1096.7,483.1 L1080.6,490.1 L1079.2,490 L1083.3,500.8 L1079.2,514.2 L1069.8,519.6 L1067.1,530.3 L1068.5,543.8 L1079.2,557.2 L1090,570.7 L1091.3,578.7 L1099.4,577.4 L1106.1,584.1 L1103.4,592.2 L1099.4,602.9 L1103.4,609.7 L1115.5,616.4 L1122.3,621.8 L1126.3,635.2 L1129,646 L1134.4,651.3 L1137,656.7 L1134.4,667.5 L1127.6,667.5 L1122.3,678.2 L1118.2,689 L1112.8,697 L1108.8,705.1 L1107.5,715.9 L1104.8,723.9 L1096.7,732 L1091.3,745.4 L1083.3,756.2 L1079.2,767 L1076.5,777.7 L1077.9,790.1 L1076.5,790 L1080.6,806.1 L1083.3,819.6 L1076.5,830.3 L1069.8,843.8 L1064.4,859.9 L1063.1,868 M1091.3,448.1 L1174.7,448.1 M1102.1,297.6 L1107.5,308.3 L1123.6,313.7 L1145.1,319.1 L1161.2,323.1 L1166.6,329.8 L1172,337.9 L1174.7,348.6 L1178.7,354 M942.1,518.5 L1061.8,518.5 L1068.5,524.4 M1182.8,479.1 L1182.8,490.1 L1182.8,490 L1182.8,562.6 L1180.1,570.7 L1182.8,584.1 L1177.4,597.6 L1169.3,605.6 L1166.6,621.8 M1182.8,475 L1263.4,475 L1263.4,476.4 L1301.1,477.7 M1263.4,475 L1263.4,490.1 L1262.1,490 L1262.1,576 M1134.4,651.3 L1142.4,643.3 L1153.2,646 L1155.9,636.5 L1163.9,629.8 L1166.6,621.8 L1169.3,616.4 L1182.8,615 L1194.9,620.4 L1201.6,615 L1211,616.4 L1216.4,608.3 L1225.8,613.7 L1236.5,602.9 L1241.9,594.9 L1247.3,586.8 L1258,584.1 L1262.1,576 L1268.8,572 L1279.6,581.4 L1295.7,589.5 L1306.4,588.1 L1317.2,586.8 L1325.3,596.2 L1328,597.6 L1338.7,592.2 L1344.1,578.7 L1350,570.7 L1370,554.5 L1375.4,549.2 L1380.8,533 L1383.4,516.9 L1386.1,511.5 M1328,597.6 L1325.3,605.6 L1333.3,619.1 L1344.1,632.5 L1350,637.9 L1370,639.7 L1376.5,635.4 L1386.1,632.2 L1394.7,626.8 L1395.8,621.4 L1402.3,611.7 L1406.6,605.3 L1410.9,596.7 L1410.9,591.3 L1415.2,593.4 L1419.5,597.7 L1423.8,595.6 L1428.1,589.1 L1431.3,582.7 L1435.6,584.8 L1439.9,579.5 L1445.3,575.2 L1448.5,569.8 L1449.6,562.3 L1451.7,560.1 L1459.2,566.6 L1464.6,570.9 L1466.8,566.6 L1473.2,567.6 L1476.5,570.9 L1482.9,575.2 L1488.3,577.3 L1489.7,578.7 L1488.3,586.8 L1480.2,594.9 L1482.9,600.2 L1493.7,605.6 L1504.4,616.4 L1509.8,629.8 L1515.2,646 L1519.2,651.3 M1344.1,632.5 L1328,643.3 L1314.5,654 L1298.4,662.1 M1134.4,667.5 L1166.6,667.5 L1166.6,662.1 L1293,664.8 L1350,663.4 L1370,664.8 L1520.6,664.8 M1276.9,722.6 L1276.9,713.2 L1287.6,705.1 L1306.4,694.4 L1325.3,683.6 L1344.1,675.5 L1350,670.2 L1370,666.1 M1104.8,722.6 L1276.9,722.6 L1306.4,723.9 L1333.3,717.2 L1350,715.9 L1370,718.6 L1380.8,728 L1410.3,729.3 L1442.6,764.3 M1303.8,732 L1314.5,740.1 L1325.3,756.2 L1338.7,775 L1350,785.8 L1350.8,790 L1357.6,795.4 L1360.2,806.1 L1365.6,814.2 L1368.3,827.6 L1373.7,830.3 M1165.3,723.9 L1162.6,758.9 L1159.9,790.1 L1159.9,790 L1155.9,835.7 L1158,890.8 M1237.9,723.9 L1243.3,758.9 L1248.6,790.1 L1248.6,790 L1256.7,816.9 L1252.7,843.8 L1254,859.9 L1256.7,870.7 L1259.4,878.7 L1338.7,884.1 L1338.7,892.2 L1344.1,876 L1350,876 L1342.8,889.5 L1342.8,876 L1346.8,874.7 L1357.6,878.7 M1180.1,868 L1255.4,868 M1180.1,868 L1184.1,884.1 L1185.4,890.8 M976.2,667.5 L1106.1,667.5 L1108.8,674.2 L1099.4,686.3 L1120.9,686.3 L1123.6,672.8 L1127.6,667.5 M993.2,795.4 L1076.5,795.4 M993.2,790 L993.2,831.7 L999.9,841.1 L1002.6,851.8 L1008,865.3 L1002.6,881.4 L1001.3,897.6 L995.9,912.3 M1063.1,868 L1118.2,868 L1115.5,881.4 L1120.9,892.2 L1122.3,897.6 M1386.1,490 L1386.1,549.7 L1526,549.7 M1386.1,469.6 L1386.1,490.1 M1409,456.2 L1409,467 L1539.4,467 L1547.5,477.7 L1555.5,490.1 L1555.5,490 L1542.1,506.1 L1542.1,519.6 L1555.5,534.4 L1544.8,541.1 L1534,546.5 L1528.6,547.8 M1555.5,492.7 L1579.7,503.4 L1570.3,518.2 M1526,549.7 L1526,596.2 L1544.8,596.2 M1595.9,358.1 L1594.5,378.2 L1593.2,405.1 L1597.2,413.2 L1597.2,440.1 L1594.5,458.9 L1590.5,472.3 L1589.1,490.1 L1587.8,495.4 L1585.1,500.8 M1648.3,357.2 L1649.6,367.5 L1638.9,380.9 L1633.5,391.7 L1625.4,410.5 L1621.4,426.6 L1618.7,440.1 M1597.2,440.1 L1657.7,440.1 L1665.8,434.7 M1663.1,346 L1664.4,378.2 L1665.8,405.1 L1668.5,423.9 L1671.2,434.7 M1593.2,465.6 L1652.3,465.6 L1655,475 L1657.7,485.8 M1641.6,468.3 L1642.9,490.1" fill="none" stroke="#333" stroke-width="3.7" stroke-linejoin="round" stroke-linecap="round"/>
<path d="M99.4,233 L116.9,238.4 L133,241.1 L151.8,243.8 L155.9,230.3 L155.9,212 L510,212 L510,212 L930,212 L930,212 L959.6,212 L959.6,198.6 L971.7,199.4 L974.4,219.6 L983.8,222.3 L999.9,226.3 L1001.3,230.3 L1010.7,226.3 L1024.1,226.3 L1032.2,230.3 L1040.2,238.4 L1048.3,237.1 L1056.4,241.1 L1067.1,246.5 L1076.5,242.4 L1086,239.7 L1091.3,243.8 L1104.8,245.1 L1118.2,247 L1126.3,247.8 L1104.8,254.5 L1086,262.6 L1072.5,273.4 L1059.1,284.1 L1045.6,294.9 L1059.1,293.5 L1075.2,289.5 L1086,288.1 L1084.6,298.9 L1091.3,296.2 L1102.1,297.6 L1118.2,290.8 L1134.4,284.1 L1150.5,276 L1161.2,269.3 L1177.4,269.3 L1166.6,273.4 L1158.6,284.1 L1155.9,293.5 L1166.6,289.5 L1177.4,292.2 L1188.1,302.9 L1204.3,305.6 L1215,298.9 L1231.2,296.2 L1247.3,294.9 L1256.7,293.5 L1256.7,302.9 L1268.8,305.6 L1276.9,308.3 L1282.2,319.1 L1287.6,321.8 L1260,321.5 L1252,318.8 L1243,317.9 L1238.6,320.6 L1225.1,322.4 L1218.9,324.2 L1217.1,328.7 L1210.8,334 L1211.7,326.9 L1208.1,325.1 L1202.7,329.6 L1200,324.2 L1197.3,329.6 L1193.8,334.9 L1190.2,341.2 L1184.8,350.2 L1180.3,356.5 L1174,361 L1169.6,366.3 L1167.8,373.5 L1170.5,375.3 L1175.8,369.9 L1181.2,362.7 L1186.6,357.3 L1192,350.2 L1197.3,347.5 L1199.1,348.4 L1190.2,357.3 L1186.6,364.3 L1184.8,371.5 L1183,378.9 L1182.1,387.8 L1178.5,394.1 L1173.3,413.2 L1174.7,432 L1176,448.1 L1177.4,461.6 L1181.4,475 L1182.8,480.4 L1193.5,479.1 L1207,472.3 L1215,458.9 L1220.4,442.8 L1217.7,423.9 L1212.3,407.8 L1211,394.4 L1215,378.2 L1220.4,364.8 L1228.5,356.7 L1239.2,346 L1244.6,335.2 L1255.4,324.4 L1263.4,327.1 L1276.9,332.5 L1290.3,340.6 L1301.1,346 L1306.4,356.7 L1305.1,367.5 L1303.8,378.2 L1298.4,386.3 L1290.3,394.4 L1289,402.4 L1293,407.8 L1301.1,402.4 L1309.1,394.4 L1317.2,391.7 L1323.9,394.4 L1328,405.1 L1330.6,418.6 L1330.6,432 L1325.3,442.8 L1317.2,448.1 L1311.8,458.9 L1306.4,469.6 L1301.1,479.1 L1309.1,480.4 L1319.9,481.7 L1328,484.4 L1338.7,485.8 L1350,484.4 L1370,471 L1386.1,467 L1399.6,460.2 L1410.3,456.2 L1423.8,448.1 L1433.2,438.7 L1434.5,432 L1430.5,426.6 L1430.5,419.9 L1448,418 L1464.1,418.6 L1473.5,422.6 L1482.9,419.9 L1493.7,419.9 L1501.8,414.5 L1509.8,410.5 L1509.8,402.4 L1507.1,397 L1508.5,389 L1520.6,382.3 L1528.6,372.8 L1536.7,364.8 L1547.5,358.1 L1558.2,357.2 L1595.9,358.1 L1648.3,357.2 L1652.3,348.6 L1665.8,345.4 L1671.2,343.3 L1676.5,336.5 L1681.9,328.5 L1684.6,316.4 L1690,308.3 L1692.7,297.6 L1703.4,284.1 L1716.9,268 L1722.2,269.3 L1723.6,276 L1733,273.4 L1743.8,270.7 L1751.8,274.7 L1758.5,284.1 L1758.5,329.8 L1768,336.5 L1769.3,348.6 L1776,351.3 L1780.1,362.1 L1778.7,367.5 L1770.6,372.8 L1759.9,375.5 L1746.4,378.2 L1735.7,383.6 L1727.6,375.5 L1724.9,386.3 L1716.9,394.4 L1706.1,398.4 L1695.4,402.4 L1687.3,405.1 L1679.2,413.2 L1673.8,423.9 L1671.2,432 L1668.5,437.4 L1671.2,445.4 L1668.5,450.8 L1664.4,456.2 L1668.5,461.6 L1676.5,469.6 L1681.9,472.3 L1687.3,467 L1692.7,469.6 L1695.4,477.7 L1690,483.1 L1673.8,485.8 L1655,488.5 L1638.9,490 L1620.1,492.7 L1601.2,495.4 L1582.4,500.8 L1579.7,503.4 L1569,519.6 L1577,527.6 L1577,543.8 L1574.4,551.8 L1566.3,562.6 L1558.2,570.7 L1552.8,578.7 L1547.5,576 L1544.8,581.4 L1546.1,597.6 L1542.1,611 L1534,616.4 L1528.6,629.8 L1523.3,640.6 L1519.2,648.6 L1520.6,651.3 L1523.3,664.8 L1528.6,683.6 L1532.7,694.4 L1535.4,697 L1534,710.5 L1520.6,718.6 L1509.8,726.6 L1504.4,732 L1491,734.7 L1477.6,740.1 L1464.1,756.2 L1450.7,761.6 L1439.9,767 L1431.8,775 L1426.5,783.1 L1423.8,790.1 L1411.3,795.4 L1403.3,803.4 L1392.5,811.5 L1381.8,819.6 L1376.4,827.6 L1371,835.7 L1365.6,846.5 L1360.2,857.2 L1357.6,865.3 L1358.9,876 L1358.9,881.4 L1362.9,897.6 L1368.3,916.4 L1376.4,937.9 L1381.8,954 L1387.1,970.2 L1392.5,986.3 L1397.9,1005.1 L1401.9,1021.2 L1401.9,1037.4 L1399.2,1053.5 L1395.2,1067 L1389.8,1077.7 L1381.8,1080.4 L1373.7,1081.7 L1368.3,1077.7 L1365.6,1069.6 L1360.2,1058.9 L1352.2,1052.2 L1348.1,1040.1 L1344.1,1032 L1340.1,1021.2 L1336,1015.9 L1330.7,1005.1 L1326.6,994.4 L1322.6,983.6 L1319.9,975.5 L1323.9,964.8 L1325.3,951.3 L1322.6,940.6 L1317.2,935.2 L1309.2,927.1 L1301.1,916.4 L1295.7,908.3 L1287.6,901.6 L1279.6,900.2 L1274.2,905.6 L1266.1,908.3 L1258.1,912.3 L1250,915 L1276.9,902.9 L1263.4,908.3 L1252.7,913.7 L1244.6,915 L1241.9,905.6 L1233.8,896.2 L1223.1,889.5 L1212.3,886.8 L1196.2,889.5 L1182.8,892.2 L1169.3,894.9 L1170.7,881.4 L1168,876 L1166.6,886.8 L1158.6,890.8 L1153.2,892.2 L1145.1,889.5 L1134.4,892.2 L1129,896.2 L1135.7,900.2 L1130.3,904.3 L1123.6,911 L1126.3,919.1 L1134.4,927.1 L1139.7,935.2 L1131.7,940.6 L1126.3,935.2 L1118.2,928.5 L1110.2,927.1 L1104.8,936.5 L1099.4,931.2 L1091.3,935.2 L1083.3,937.9 L1076.5,932.5 L1069.8,924.4 L1064.4,916.4 L1056.4,911 L1048.3,915 L1042.9,920.4 L1032.2,919.1 L1021.4,913.7 L1010.7,912.3 L997.2,913.7 L983.8,917.7 L973,921.8 L965,929.8 L956.9,940.6 L943.4,951.3 L930,959.4 L930,948.6 L921.4,954 L910.6,964.8 L899.9,972.8 L891.8,983.6 L890.5,994.4 L891.8,1005.1 L895.9,1018.6 L899.9,1037.4 L901.2,1050.8 L891.8,1052.2 L886.4,1049.5 L871.7,1048.1 L862.2,1042.8 L851.5,1037.4 L843.4,1032 L835.4,1013.2 L834,999.7 L830,991.7 L819.2,980.9 L811.2,970.2 L805.8,956.7 L797.7,937.9 L789.6,927.1 L781.6,919.1 L776.2,913.7 L760.1,912.3 L752,909.7 L746.6,912.3 L739.9,916.4 L735.9,932.5 L730.5,937.9 L725.1,943.3 L719.7,939.2 L709,933.9 L698.2,927.1 L687.5,916.4 L682.1,902.9 L679.4,892.2 L674,881.4 L663.3,873.4 L655.2,865.3 L644.4,857.2 L636.4,849.2 L631,839.7 L625.6,833 L625.6,839.7 L581.3,839.7 L581.3,855.1 L555.7,855.1 L510,855.1 L496,854.5 L426.1,830.3 L387.1,814.2 L387.1,807.5 L391.2,804.8 L319.9,812.9 L313.2,790.1 L305.1,780.4 L297,772.3 L289,767 L283.6,764.3 L275.5,758.9 L264.8,753.5 L254,748.1 L240.6,744.1 L229.8,742.8 L223.1,741.4 L219.1,732 L216.4,718.6 L213.7,710.5 L208.3,705.1 L197.6,694.4 L190.8,683.6 L184.1,675.5 L180.1,667.5 L182.8,662.1 L184.1,654 L178.7,648.6 L170.7,640.6 L165.3,629.8 L166.6,621.8 L162.6,613.7 L150.5,611 L147.8,600.2 L138.4,589.5 L129,578.7 L125,568 L125,557.2 L123.6,543.8 L114.2,535.7 L108.8,525 L111.5,511.5 L115.5,500.8 L116.9,490 L116.9,490.1 L115.5,480.4 L111.5,467 L108.8,456.2 L106.1,445.4 L104.8,436 L110.2,421.2 L114.2,405.1 L118.2,378.2 L120.9,351.3 L122.3,329.8 L119.6,313.7 L120.1,308.3 L120.9,297.6 L119.6,286.8 L116.9,281.4 L112.9,273.4 L107.5,263.9 L103.4,254.5 L100.8,243.8Z M1570.3,516.9 L1585.1,512.9 L1603.9,509.4 L1622.8,504.8 L1638.9,500.2 L1636.2,497.5 L1620.1,499.4 L1601.2,502.9 L1585.1,506.7 L1573,512.9Z" fill="none" stroke="#333" stroke-width="3.7" stroke-linejoin="round"/>
<path d="M1521.3,557.2 L1516.2,560.6 L1511.1,567.4 L1506,581.1 L1502.6,594.7 L1497.4,598.1 L1490.6,604.9 L1482.1,601.5 L1478.7,596.4 L1483.8,589.6 L1488.9,581.1 M1521.3,557.2 L1514.5,564 L1511.1,581.1 L1511.1,594.7 L1516.2,601.5 L1524.7,610 L1521.3,618.5 L1519.6,632.1 L1517.9,645.7 M1490.6,611.7 L1502.6,604.9 L1511.1,601.5 M1494,632.1 L1504.3,625.3 L1511.1,620.2 M1490.6,640.6 L1500.9,635.5 L1509.4,632.1 M1500.9,649.1 L1509.4,649.1 L1516.2,649.1 M1495.7,673 L1502.6,679.8 L1511.1,678.1 L1516.2,683.2 L1519.6,691.7 M1497.4,679.8 L1500.9,690 L1514.5,693.4 L1519.6,700.2 M1488.9,703.6 L1500.9,708.7 L1511.1,707 L1517.9,700.2 M1511.1,688.3 L1517.9,684.9 L1524.7,688.3 M1488.9,703.6 L1494,710.4 L1504.3,713.8 L1511.1,720 M1502.6,700.2 L1511.1,698.5 L1516.2,693.4 M1480.4,598.1 L1494,608.3 L1504.3,610 M1499.1,586.2 L1506,589.6 M1102.1,892.2 L1107.5,889.5 L1115.5,893.5 L1114.2,900.2 L1104.8,901.6 L1098.1,897.6 L1102.1,892.2 M1318.6,972.8 L1322.6,978.2 L1328,980.9 L1330.7,986.3 L1326.6,990.3 L1322.6,986.3 M1333.4,1014.5 L1338.7,1015.9 L1341.4,1021.2 L1336,1021.2 M883.8,1005.1 L891.8,997 L886.4,989 L894.5,983.6 L897.2,975.5 L905.3,972.8 L908,964.8 L916,962.1 L918.7,954 L926.8,951.3 M962.3,913.7 L970.3,919.1 L967.6,924.4 L973,911 M165.8,605.8 L172.3,607.4 L175.5,612.3 L169.8,615.5 L170.6,621.9 L173.9,626.8 L180.3,633.2 M164.2,618.7 L169,625.2 L173.9,631.6 M1416.2,551.5 L1416.2,569.8 L1428.1,559 L1434.5,556.9 L1438.8,552.6 L1443.1,555.8 L1447.4,555.8 L1453.9,552.6 L1459.2,552.6 L1464.6,554.7 L1466.8,560.1 L1466.8,566.6" fill="none" stroke="#333" stroke-width="5" stroke-linejoin="round" stroke-linecap="round"/>
</svg>
<div class="t" id="title">Galerucella calmariensis: Degree day (DD) accumulation 06/29/2022</div>
<div class="t sub" style="left:381.8px;top:91px">Maps and modeling 02/01/2023 by Oregon State University IPPC USPEST.ORG and</div>
<div class="t sub" style="left:504.2px;top:127px">USDA-APHIS-PPQ; climate data from OSU PRISM Climate Group</div>
<div class="t" style="left:1832px;top:448px;font-weight:bold;font-size:28px;transform:scaleY(1.08);transform-origin:0 0">Degree Days</div>
<div class="sw" style="top:492px;background:#5E4FA2"></div>
<div class="lb" style="top:497px">0-203</div>
<div class="sw" style="top:528px;background:#3288BD"></div>
<div class="lb" style="top:533px">203-406</div>
<div class="sw" style="top:564px;background:#66C2A5"></div>
<div class="lb" style="top:569px">406-609</div>
<div class="sw" style="top:600px;background:#ABDDA4"></div>
<div class="lb" style="top:605px">609-812</div>
<div class="sw" style="top:636px;background:#E6F598"></div>
<div class="lb" style="top:641px">812-1020</div>
<div class="sw" style="top:672px;background:#FEE08B"></div>
<div class="lb" style="top:677px">1020-1220</div>
<div class="sw" style="top:708px;background:#FDAE61"></div>
<div class="lb" style="top:713px">1220-1420</div>
<div class="sw" style="top:744px;background:#F46D43"></div>
<div class="lb" style="top:749px">1420-1620</div>
<div class="sw" style="top:780px;background:#D53E4F"></div>
<div class="lb" style="top:785px">1620-1830</div>
<div class="sw" style="top:816px;background:#9E0142"></div>
<div class="lb" style="top:821px">1830-2030</div>
</body></html>
